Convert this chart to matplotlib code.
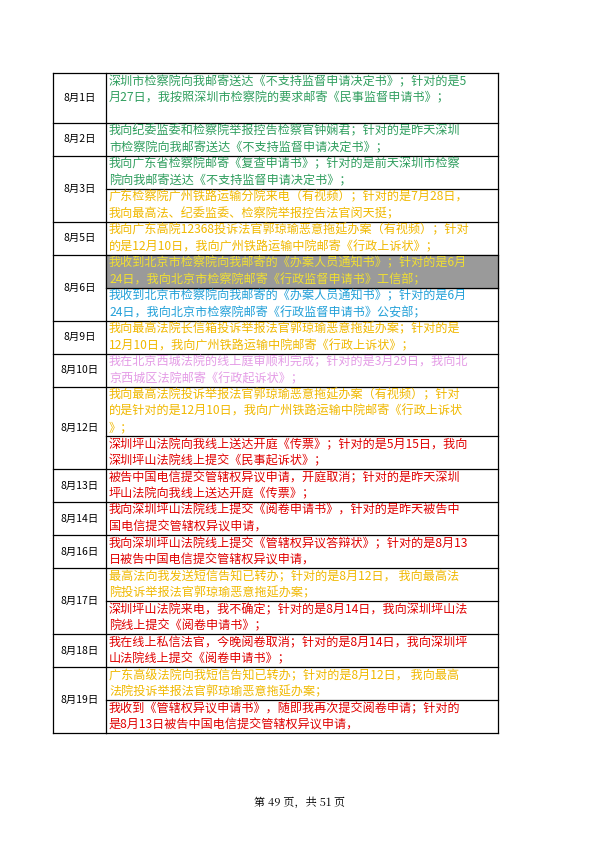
import matplotlib
matplotlib.use('Agg')
import matplotlib.pyplot as plt

plt.rcParams['font.family'] = ['Noto Sans CJK SC', 'DejaVu Sans']

GREEN = '#2f9e5e'
ORANGE = '#f0b800'
BLUE = '#22a0d8'
PINK = '#e49be6'
RED = '#e00000'
GRAY = '#9a9a9a'

dates = ['8月1日', '8月2日', '8月3日', '8月5日', '8月6日', '8月9日', '8月10日',
         '8月12日', '8月13日', '8月14日', '8月16日', '8月17日', '8月18日', '8月19日']

# each date: list of (lines, text colour, background, cell height in text lines)
entries = [
    [(['深圳市检察院向我邮寄送达《不支持监督申请决定书》；针对的是5',
       '月27日，我按照深圳市检察院的要求邮寄《民事监督申请书》；'], GREEN, None, 3)],
    [(['我向纪委监委和检察院举报控告检察官钟娴君；针对的是昨天深圳',
       '市检察院向我邮寄送达《不支持监督申请决定书》；'], GREEN, None, 2)],
    [(['我向广东省检察院邮寄《复查申请书》；针对的是前天深圳市检察',
       '院向我邮寄送达《不支持监督申请决定书》；'], GREEN, None, 2),
     (['广东检察院广州铁路运输分院来电（有视频）；针对的是7月28日，',
       '我向最高法、纪委监委、检察院举报控告法官闵天挺；'], ORANGE, None, 2)],
    [(['我向广东高院12368投诉法官郭琼瑜恶意拖延办案（有视频）；针对',
       '的是12月10日，我向广州铁路运输中院邮寄《行政上诉状》；'], ORANGE, None, 2)],
    [(['我收到北京市检察院向我邮寄的《办案人员通知书》；针对的是6月',
       '24日，我向北京市检察院邮寄《行政监督申请书》工信部；'], '#f2e030', GRAY, 2),
     (['我收到北京市检察院向我邮寄的《办案人员通知书》；针对的是6月',
       '24日，我向北京市检察院邮寄《行政监督申请书》公安部；'], BLUE, None, 2)],
    [(['我向最高法院长信箱投诉举报法官郭琼瑜恶意拖延办案；针对的是',
       '12月10日，我向广州铁路运输中院邮寄《行政上诉状》；'], ORANGE, None, 2)],
    [(['我在北京西城法院的线上庭审顺利完成；针对的是3月29日，我向北',
       '京西城区法院邮寄《行政起诉状》；'], PINK, None, 2)],
    [(['我向最高法院投诉举报法官郭琼瑜恶意拖延办案（有视频）；针对',
       '的是针对的是12月10日，我向广州铁路运输中院邮寄《行政上诉状',
       '》；'], ORANGE, None, 3),
     (['深圳坪山法院向我线上送达开庭《传票》；针对的是5月15日，我向',
       '深圳坪山法院线上提交《民事起诉状》；'], RED, None, 2)],
    [(['被告中国电信提交管辖权异议申请，开庭取消；针对的是昨天深圳',
       '坪山法院向我线上送达开庭《传票》；'], RED, None, 2)],
    [(['我向深圳坪山法院线上提交《阅卷申请书》，针对的是昨天被告中',
       '国电信提交管辖权异议申请，'], RED, None, 2)],
    [(['我向深圳坪山法院线上提交《管辖权异议答辩状》；针对的是8月13',
       '日被告中国电信提交管辖权异议申请，'], RED, None, 2)],
    [(['最高法向我发送短信告知已转办；针对的是8月12日， 我向最高法',
       '院投诉举报法官郭琼瑜恶意拖延办案；'], ORANGE, None, 2),
     (['深圳坪山法院来电，我不确定；针对的是8月14日，我向深圳坪山法',
       '院线上提交《阅卷申请书》；'], RED, None, 2)],
    [(['我在线上私信法官，今晚阅卷取消；针对的是8月14日，我向深圳坪',
       '山法院线上提交《阅卷申请书》；'], RED, None, 2)],
    [(['广东高级法院向我短信告知已转办；针对的是8月12日， 我向最高',
       '法院投诉举报法官郭琼瑜恶意拖延办案；'], ORANGE, None, 2),
     (['我收到《管辖权异议申请书》，随即我再次提交阅卷申请；针对的',
       '是8月13日被告中国电信提交管辖权异议申请，'], RED, None, 2)],
]

fig = plt.figure(figsize=(5.99, 8.48), dpi=100)
ax = fig.add_axes([0, 0, 1, 1])
ax.set_xlim(0, 599)
ax.set_ylim(848, 0)
ax.axis('off')

X0, X1, X2 = 53, 106, 498
LH = 16.5
y = 73
for date, subs in zip(dates, entries):
    top = y
    for lines, col, bg, nl in subs:
        h = LH * nl
        if bg:
            ax.add_patch(plt.Rectangle((X1, y), X2 - X1, h, color=bg, zorder=0))
        for i, ln in enumerate(lines):
            ax.text(X1 + 3, y + 8.5 + i * LH, ln, color=col, fontsize=8.7,
                    va='center', ha='left')
        y += h
        ax.plot([X1, X2], [y, y], color='black', lw=0.9)
    ax.text((X0 + X1) / 2, (top + y) / 2, date, fontsize=7.5, ha='center', va='center')
    ax.plot([X0, X1], [y, y], color='black', lw=0.9)

ax.plot([X0, X2], [73, 73], color='black', lw=0.9)
for x in (X0, X1, X2):
    ax.plot([x, x], [73, y], color='black', lw=0.9)

ax.text(300, 803, '第 49 页，共 51 页', fontsize=8, ha='center', va='center',
        family=['Noto Serif CJK SC', 'Noto Sans CJK SC', 'DejaVu Sans'])

fig.savefig('out.png', dpi=100)
